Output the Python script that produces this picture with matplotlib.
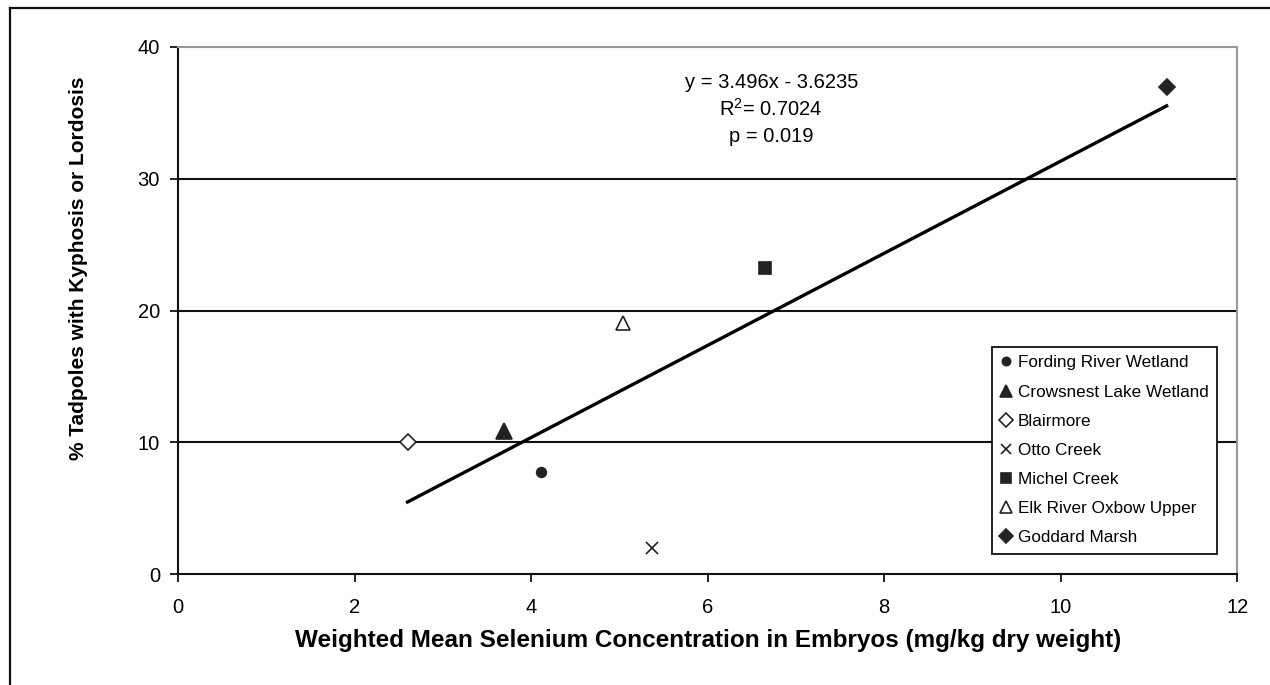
import matplotlib.pyplot as plt
from matplotlib.lines import Line2D
import numpy as np

plt.rcParams['font.family'] = ['Liberation Sans', 'DejaVu Sans']

# site means: embryo Se (mg/kg dw) and % tadpoles with kyphosis/lordosis
sites = ['Fording River Wetland', 'Crowsnest Lake Wetland', 'Blairmore', 'Otto Creek',
         'Michel Creek', 'Elk River Oxbow Upper', 'Goddard Marsh']
selenium = [4.11, 3.69, 2.6, 5.37, 6.65, 5.04, 11.2]
deformed = [7.75, 10.85, 10.0, 2.0, 23.2, 19.05, 37.0]

markers = ['o', '^', 'D', 'x', 's', '^', 'D']
facecols = ['#222222', '#222222', 'white', '#222222', '#222222', 'white', '#222222']
sizes = [7, 11, 8, 8, 9, 10, 8]

slope = 3.496
intercept = -3.6235
r2 = 0.7024
pval = 0.019

fig = plt.figure(figsize=(12.7, 6.85), dpi=100)
ax = fig.add_axes([0.1402, 0.162, 0.834, 0.7694])

for yv in [10, 20, 30]:
    ax.axhline(yv, color='#111111', lw=1.5, zorder=1)

for i in range(len(sites)):
    ax.plot(selenium[i], deformed[i], linestyle='none', marker=markers[i],
            markersize=sizes[i], markerfacecolor=facecols[i],
            markeredgecolor='#222222', markeredgewidth=1.2, zorder=4,
            label=sites[i])

# linear fit drawn over the data range
xfit = np.array([min(selenium), max(selenium)])
ax.plot(xfit, slope * xfit + intercept, color='black', lw=2.4, zorder=3)

eq_kw = dict(transform=ax.transAxes, ha='center', va='center', fontsize=14.5)
ax.text(0.56, 0.932, 'y = %.3fx - %.4f' % (slope, -intercept), **eq_kw)
ax.text(0.56, 0.882, '$\\mathregular{R^2}$= %.4f' % r2, **eq_kw)
ax.text(0.56, 0.831, 'p = %.3f' % pval, **eq_kw)

ax.set_xlim(0, 12)
ax.set_ylim(0, 40)
ax.set_xticks(range(0, 13, 2))
ax.set_yticks(range(0, 41, 10))
ax.tick_params(direction='out', length=6, width=1.3, labelsize=14.5, color='#111111')
ax.tick_params(axis='x', pad=11)
ax.tick_params(axis='y', pad=7)

for s in ['left', 'bottom']:
    ax.spines[s].set_color('#111111')
    ax.spines[s].set_linewidth(1.5)
for s in ['top', 'right']:
    ax.spines[s].set_color('#999999')
    ax.spines[s].set_linewidth(1.5)

ax.set_xlabel('Weighted Mean Selenium Concentration in Embryos (mg/kg dry weight)',
              fontsize=17.5, fontweight='bold', labelpad=9)
ax.set_ylabel('% Tadpoles with Kyphosis or Lordosis', fontsize=15,
              fontweight='bold', va='center')
ax.yaxis.set_label_coords(-0.0944, 0.581)

leg = ax.legend(loc='lower left', bbox_to_anchor=(0.7686, 0.038), borderaxespad=0,
                fontsize=12.3, frameon=True, fancybox=False, framealpha=1,
                edgecolor='#111111', handlelength=0.6, handletextpad=0.4,
                labelspacing=0.83, borderpad=0.5, markerscale=0.85)
leg.get_frame().set_linewidth(1.3)
leg.set_zorder(5)

# outer chart border (left and top edges)
fig.add_artist(Line2D([9.5 / 1270, 9.5 / 1270], [0, 1 - 8 / 685], color='#111111', lw=1.6))
fig.add_artist(Line2D([9.5 / 1270, 1], [1 - 8 / 685, 1 - 8 / 685], color='#111111', lw=1.6))

fig.savefig('out.png', dpi=100)
